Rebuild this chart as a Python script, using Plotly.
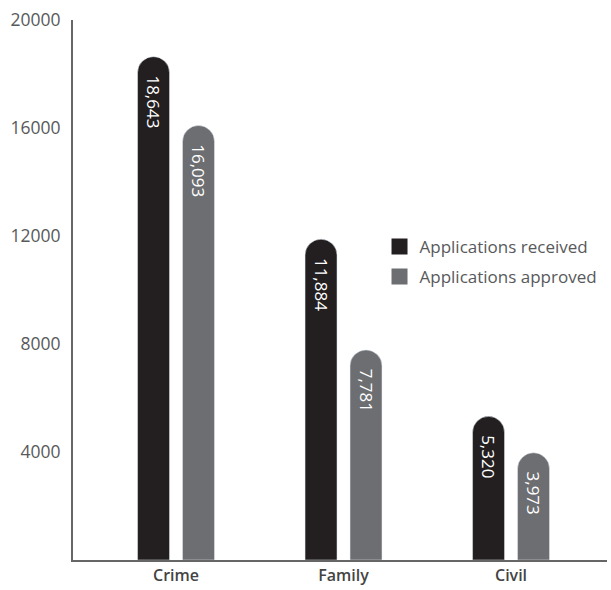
import plotly.graph_objects as go

categories = ["Crime", "Family", "Civil"]
received = [18643, 11884, 5320]
approved = [16093, 7781, 3973]
series_names = ["Applications received", "Applications approved"]
colors = ["#231f20", "#6d6e71"]
y_ticks = [4000, 8000, 12000, 16000, 20000]

FONT = "Open Sans"
PAD = "\u00a0\u00a0"

fig = go.Figure()
for i, (name, vals, col) in enumerate(zip(series_names, [received, approved], colors)):
    fig.add_trace(go.Bar(
        x=categories, y=vals, name=name, marker_color=col,
        text=[PAD + f"{v:,}" for v in vals], textposition="inside",
        insidetextanchor="end", textangle=90,
        textfont=dict(color="white", size=17, family=FONT, weight=500),
        showlegend=False, hoverinfo="skip",
    ))
    fig.add_trace(go.Scatter(
        x=[None], y=[None], mode="markers", name=name, legendgroup=f"g{i}",
        marker=dict(symbol="square", size=18, color=col),
    ))

fig.update_layout(
    width=611, height=590,
    margin=dict(l=73, r=4, t=20, b=27),
    paper_bgcolor="white", plot_bgcolor="white",
    barmode="group", bargap=0.463, bargroupgap=0.289,
    barcornerradius="50%",
    font=dict(family=FONT, color="#58595b"),
    legend=dict(x=0.574, y=0.552, xanchor="left", yanchor="middle",
                font=dict(size=17, color="#58595b", family=FONT),
                bgcolor="rgba(0,0,0,0)", tracegroupgap=5),
    uniformtext=dict(mode=False),
)
fig.update_xaxes(range=[-0.615, 2.573], showline=True, linecolor="#666666",
                 linewidth=2, showgrid=False, zeroline=False, ticks="",
                 tickfont=dict(size=16, color="#444444", family=FONT, weight=600))
fig.update_yaxes(range=[0, 20000], tickvals=y_ticks, ticktext=[str(t) for t in y_ticks],
                 showline=True, linecolor="#666666", linewidth=2,
                 showgrid=False, zeroline=False, ticks="", ticklabelstandoff=7,
                 tickfont=dict(size=17.5, color="#58595b", family=FONT))

fig.write_html("out.html")
